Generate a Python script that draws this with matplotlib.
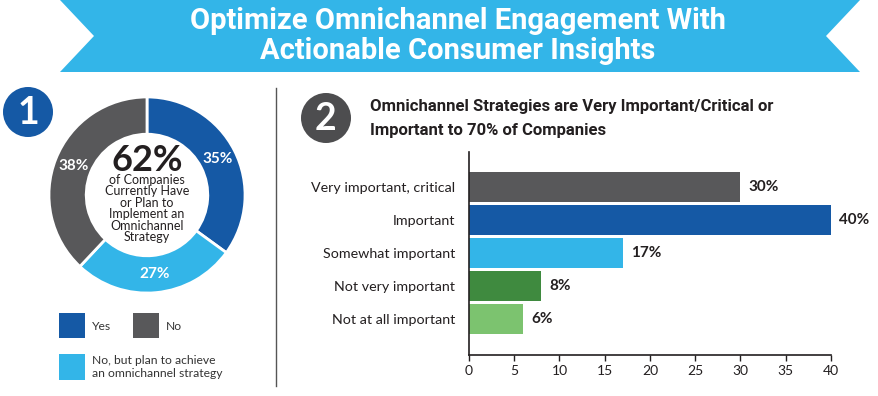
import numpy as np
import matplotlib.pyplot as plt
from matplotlib.patches import Polygon, Circle, Rectangle

W, H = 879, 396

# donut data
donut_labels = ['Yes', 'No, but plan to achieve\nan omnichannel strategy', 'No']
donut_values = [35, 27, 38]
donut_colors = ['#1559a5', '#33b5e8', '#58585a']

# bar data
bar_categories = ['Very important, critical', 'Important', 'Somewhat important',
                  'Not very important', 'Not at all important']
bar_values = [30, 40, 17, 8, 6]
bar_colors = ['#58585a', '#1559a5', '#33b5e8', '#3f8a3f', '#7cc36f']
x_ticks = [0, 5, 10, 15, 20, 25, 30, 35, 40]

title_font = ['Roboto', 'DejaVu Sans']
body_font = ['Lato', 'DejaVu Sans']
dark = '#231f20'


def fig_box(x0, y0, x1, y1):
    # pixel box (top-left origin) -> figure fraction rect
    return [x0 / W, 1 - y1 / H, (x1 - x0) / W, (y1 - y0) / H]


fig = plt.figure(figsize=(W / 100, H / 100), dpi=100)
fig.patch.set_facecolor('white')

# background layer in pixel coords
bg = fig.add_axes([0, 0, 1, 1])
bg.set_xlim(0, W)
bg.set_ylim(H, 0)
bg.axis('off')

banner = Polygon([(60, 0), (860, 0), (826, 36), (860, 72), (60, 72), (94, 36)],
                 closed=True, facecolor='#33b5e8', edgecolor='none')
bg.add_patch(banner)
bg.text(458, 21, 'Optimize Omnichannel Engagement With', color='white',
        fontsize=21, fontweight='bold', family=title_font, ha='center', va='center')
bg.text(458, 51, 'Actionable Consumer Insights', color='white',
        fontsize=21, fontweight='bold', family=title_font, ha='center', va='center')

# section badges
bg.add_patch(Circle((28, 112), 25, facecolor='#1559a5', edgecolor='none'))
bg.text(28, 113, '1', color='white', fontsize=27, fontweight='bold',
        family=body_font, ha='center', va='center')
bg.add_patch(Circle((326, 118), 25, facecolor='#4d4d4f', edgecolor='none'))
bg.text(326, 119, '2', color='white', fontsize=27, fontweight='bold',
        family=body_font, ha='center', va='center')

# separator
bg.plot([276, 276], [88, 386], color='#555555', lw=1)

# section 2 title
bg.text(370, 107, 'Omnichannel Strategies are Very Important/Critical or', color=dark,
        fontsize=12, fontweight='bold', family=title_font, ha='left', va='center')
bg.text(370, 131, 'Important to 70% of Companies', color=dark,
        fontsize=12, fontweight='bold', family=title_font, ha='left', va='center')

# legend
bg.add_patch(Rectangle((59, 313), 26, 25, facecolor=donut_colors[0], edgecolor='none'))
bg.text(92, 326, donut_labels[0], fontsize=8.7, family=body_font, color='#333333', va='center')
bg.add_patch(Rectangle((133, 313), 26, 25, facecolor=donut_colors[2], edgecolor='none'))
bg.text(166, 326, donut_labels[2], fontsize=8.7, family=body_font, color='#333333', va='center')
bg.add_patch(Rectangle((59, 354), 26, 26, facecolor=donut_colors[1], edgecolor='none'))
bg.text(92, 367, donut_labels[1], fontsize=8.7, family=body_font, color='#333333',
        va='center', linespacing=1.25)

# donut
ax1 = fig.add_axes(fig_box(47, 95, 247, 295))
wedges, texts, autotexts = ax1.pie(
    donut_values, colors=donut_colors, startangle=90, counterclock=False,
    wedgeprops=dict(width=0.38, edgecolor='white', linewidth=2),
    autopct='%d%%', pctdistance=0.81,
    textprops=dict(color='white', fontsize=11, fontweight='bold', family=body_font))
ax1.set_xlim(-1.02, 1.02)
ax1.set_ylim(-1.02, 1.02)
ax1.set_aspect('equal')
ax1.text(0, 0.35, '62%', fontsize=26, fontweight='bold', family=body_font,
         color=dark, ha='center', va='center')
ax1.text(0, -0.14, 'of Companies\nCurrently Have\nor Plan to\nImplement an\nOmnichannel\nStrategy',
         fontsize=9, family=body_font, color=dark, ha='center', va='center', linespacing=0.95)

# bar chart
ax2 = fig.add_axes(fig_box(469, 152, 831, 355))
y = np.arange(len(bar_categories))
bars = ax2.barh(y, bar_values, height=0.88, color=bar_colors)
for yi, v in zip(y, bar_values):
    ax2.text(v + 0.9, yi, f'{v}%', fontsize=11, fontweight='bold', family=body_font,
             color=dark, va='center', ha='left', clip_on=False)
ax2.set_xlim(0, 40)
ax2.set_ylim(len(bar_categories) - 1 + 1.09, -1.06)
ax2.set_xticks(x_ticks)
ax2.set_xticklabels([str(t) for t in x_ticks], fontsize=10, family=body_font, color=dark)
ax2.set_yticks(y)
ax2.set_yticklabels(bar_categories, fontsize=10.3, family=body_font, color=dark)
ax2.tick_params(axis='y', length=0, pad=10)
ax2.tick_params(axis='x', length=4, width=1, direction='out', pad=3, color=dark)
for s in ['top', 'right']:
    ax2.spines[s].set_visible(False)
for s in ['left', 'bottom']:
    ax2.spines[s].set_color(dark)
    ax2.spines[s].set_linewidth(1.2)

fig.savefig('out.png', dpi=100)
